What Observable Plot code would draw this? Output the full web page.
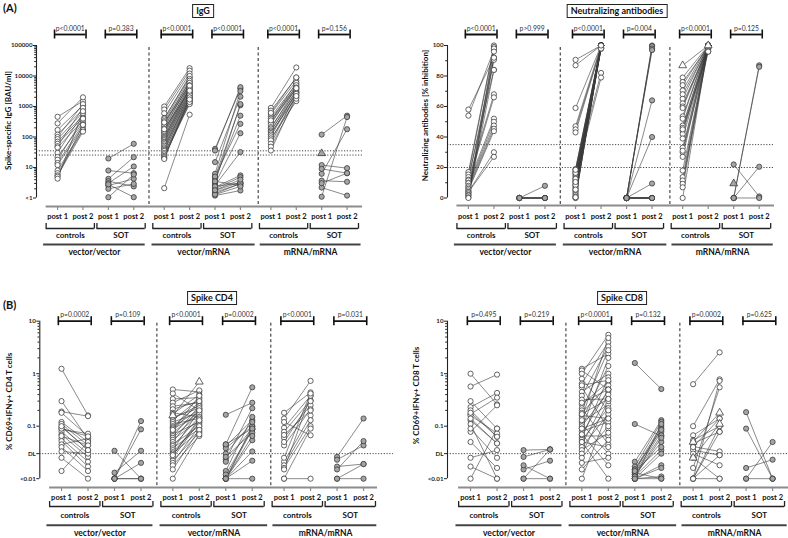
<!DOCTYPE html>
<html><head><meta charset="utf-8">
<script src="https://cdn.jsdelivr.net/npm/d3@7"></script>
<script src="https://cdn.jsdelivr.net/npm/@observablehq/plot@0.6"></script>
<style>
body{margin:0;background:#fff;}
#wrap{position:relative;width:788px;height:538px;overflow:hidden;font-family:Lato,"Open Sans",sans-serif;color:#111;}
.ttl{position:absolute;border:1px solid #222;font:bold 9px Lato,sans-serif;padding:0 3px;line-height:12px;transform:translateX(-50%);background:#fff;white-space:nowrap;}
.lbl{position:absolute;font:bold 11px Lato,sans-serif;}
</style></head><body><div id="wrap"></div>
<script>
// ---------- categories / labels ----------
const timepoints = ["post 1", "post 2"];
const cohorts = ["controls", "SOT"];
const regimens = ["vector/vector", "vector/mRNA", "mRNA/mRNA"];
const panelTitles = ["IgG", "Neutralizing antibodies", "Spike CD4", "Spike CD8"];
const yLabels = ["Spike-specific IgG [BAU/ml]", "Neutralizing antibodies [% inhibition]", "% CD69+IFN\u03b3+ CD4 T cells", "% CD69+IFN\u03b3+ CD8 T cells"];

// p-values (order: vv controls, vv SOT, vm controls, vm SOT, mm controls, mm SOT)
const igg_p = ["p<0.0001", "p=0.383", "p<0.0001", "p<0.0001", "p<0.0001", "p=0.156"];
const nab_p = ["p<0.0001", "p>0.999", "p<0.0001", "p=0.004", "p<0.0001", "p=0.125"];
const cd4_p = ["p=0.0002", "p=0.109", "p<0.0001", "p=0.0002", "p<0.0001", "p=0.031"];
const cd8_p = ["p=0.495", "p=0.219", "p<0.0001", "p=0.132", "p=0.0002", "p=0.625"];

// axis ticks
const igg_ticks = [1, 10, 100, 1000, 10000, 100000];
const igg_tickLabels = ["<1", "10", "100", "1000", "10000", "100000"];
const igg_cutoffs = [35.2, 25.6];
const nab_ticks = [0, 20, 40, 60, 80, 100];
const nab_tickLabels = ["0", "20", "40", "60", "80", "100"];
const nab_cutoffs = [35, 20];
const tcell_ticks = [0.01, 0.03, 0.1, 1, 10];
const tcell_tickLabels = ["<0.01", "DL", "0.1", "1", "10"];
const tcell_DL = [0.03];

// ---------- IgG [post 1, post 2] ----------
const igg_vv_ctrl = [[460,1500],[280,2000],[170,1100],[120,800],[100,1200],[85,650],[70,500],[60,420],[50,900],[45,350],[30,600],[22,300],[18,400],[14,260],[12,220],[8,180],[6.5,170],[5.5,150],[5,250],[4.3,700]];
const igg_vv_sot = [[19.7,59.8],[7.95,6.5],[4.25,21.8],[3.55,2.4],[3.06,10.8],[2.57,4.25],[2.0,2.9],[1.06,5.9],[2.8,1.06]];
const igg_vm_ctrl = [[1000,18000],[800,15000],[600,12000],[420,9000],[380,10000],[330,8000],[290,6500],[250,7000],[220,5500],[190,6000],[170,4500],[150,5000],[140,3800],[125,4200],[110,3500],[100,3000],[92,4000],[85,2800],[78,3200],[70,2500],[65,2600],[58,2200],[52,2000],[46,1800],[42,2400],[38,1500],[35,1900],[30,1300],[27,1600],[24,1200],[22,1400],[20,2000],[19,1700],[2.1,540],[300,4800],[180,3300]];
const igg_vm_sot = [[41,3800],[36,4300],[15,2100],[6.2,3200],[4.8,1100],[3.95,500],[3.3,1200],[2.9,133],[2.57,32],[2.26,5.5],[2.0,4.8],[1.76,3.3],[1.55,2.9],[1.37,3.0],[1.2,1.76],[5.0,270],[3.5,2.6],[2.4,3.1],[1.3,2.4],[1.8,4.0]];
const igg_mm_ctrl = [[900,19000],[730,8800],[570,7000],[460,5500],[400,4500],[330,6000],[300,3800],[260,5000],[210,3200],[190,4200],[165,2600],[150,3500],[135,2000],[120,3000],[105,2800],[90,1500],[78,2300],[60,2600],[48,1800],[36,2200],[620,9000],[350,4000]];
const igg_mm_sot = [[120,500],[1.1,450],[6.2,180],[12,9.5],[9,6.5],[3.7,3.4],[2.2,1.2],[3.05,6.5]];
const igg_mm_sot_tri = [[29,null]];

// ---------- Neutralizing antibodies ----------
const nab_vv_ctrl = [[58,92],[54,97],[17,100],[15.4,99],[13.7,84],[12,68],[11.5,92],[10,66],[9.7,52],[8,50],[7,47.5],[6,45.4],[5,43.8],[4,30],[3.8,27],[3,98],[2,90.6],[1.6,96],[0.5,84],[0,92]];
const nab_vv_sot = [[0,8],[0,0],[0,0],[0,0],[0,0],[0,0],[0,0]];
const nab_vm_ctrl = [[90.6,100],[87,100],[59,100],[47,100],[45,99],[43,98.5],[19,100],[18,99],[17,82],[16,100],[15,99],[14,79],[13,100],[12,98],[11,100],[10,99],[9,100],[8,98],[7,100],[6,99],[5,100],[4,98],[3,100],[2,99],[1,100],[0,100],[0,98.5],[16.5,100],[12.5,99],[8.5,100],[5.5,99],[18.5,100],[10.5,98],[0.5,100]];
const nab_vm_sot = [[0,100],[0,99.5],[0,98],[0,97],[0,64],[0,40],[0,9.5],[0,0],[0,0],[0,0],[0,0],[0,0],[0,0],[0,0]];
const nab_mm_ctrl = [[79,100],[76,99],[74,100],[70.5,100],[68,99],[65,100],[62,98],[60,100],[59,99],[53.5,100],[52,100],[47.5,99],[46,100],[44,98],[42,100],[39,99],[33,100],[30,96],[27,100],[18,99],[13.7,100],[11.5,97],[9.3,100],[7,99],[0,100],[45,96],[31,100]];
const nab_mm_ctrl_tri = [[86.9,100]];
const nab_mm_sot = [[0,87],[0,86],[0,20.5],[22,1],[0,0]];
const nab_mm_sot_tri = [[9.5,null]];

// ---------- Spike CD4 ----------
const cd4_vv_ctrl = [[1.24,0.16],[0.30,0.057],[0.19,0.155],[0.18,0.064],[0.12,0.05],[0.11,0.043],[0.097,0.035],[0.087,0.072],[0.078,0.03],[0.069,0.026],[0.058,0.021],[0.052,0.017],[0.045,0.058],[0.04,0.014],[0.033,0.03],[0.025,0.01],[0.014,0.05],[0.09,0.064],[0.065,0.043],[0.1,0.035]];
const cd4_vv_sot = [[0.034,0.01],[0.013,0.034],[0.01,0.125],[0.01,0.087],[0.01,0.02],[0.01,0.01],[0.01,0.01]];
const cd4_vm_ctrl = [[0.5,0.45],[0.42,0.20],[0.33,0.35],[0.28,0.48],[0.24,0.28],[0.21,0.30],[0.18,0.15],[0.17,0.40],[0.15,0.22],[0.14,0.25],[0.13,0.33],[0.12,0.18],[0.11,0.14],[0.10,0.26],[0.095,0.21],[0.09,0.16],[0.08,0.30],[0.075,0.19],[0.07,0.12],[0.065,0.24],[0.06,0.17],[0.055,0.13],[0.05,0.22],[0.045,0.10],[0.042,0.15],[0.038,0.09],[0.035,0.20],[0.032,0.11],[0.03,0.08],[0.028,0.14],[0.025,0.12],[0.022,0.075],[0.02,0.10],[0.018,0.065],[0.015,0.085],[0.01,0.07],[0.085,0.38],[0.028,0.13]];
const cd4_vm_ctrl_tri = [[0.16,0.70]];
const cd4_vm_sot = [[0.165,0.28],[0.045,0.55],[0.042,0.13],[0.038,0.10],[0.023,0.22],[0.021,0.092],[0.014,0.15],[0.012,0.087],[0.01,0.054],[0.01,0.033],[0.01,0.022],[0.01,0.01],[0.01,0.10],[0.01,0.087],[0.03,0.12],[0.026,0.075],[0.045,0.09],[0.01,0.065]];
const cd4_mm_ctrl = [[0.18,0.44],[0.14,0.73],[0.093,0.38],[0.078,0.31],[0.06,0.25],[0.043,0.21],[0.021,0.16],[0.018,0.13],[0.016,0.10],[0.015,0.38],[0.01,0.09],[0.01,0.01],[0.12,0.067],[0.05,0.3],[0.025,0.42],[0.068,0.2]];
const cd4_mm_sot = [[0.026,0.14],[0.023,0.043],[0.017,0.019],[0.015,0.052],[0.01,0.01],[0.01,0.019]];

// ---------- Spike CD8 ----------
const cd8_vv_ctrl = [[1.0,0.26],[0.57,0.96],[0.30,0.09],[0.23,0.43],[0.2,0.063],[0.17,0.35],[0.16,0.073],[0.13,0.047],[0.11,0.01],[0.078,0.25],[0.05,0.016],[0.025,0.035],[0.017,0.01],[0.01,0.09],[0.18,0.063],[0.14,0.047],[0.09,0.025]];
const cd8_vv_sot = [[0.035,0.036],[0.026,0.036],[0.015,0.022],[0.01,0.01],[0.018,0.01],[0.01,0.036]];
const cd8_vm_ctrl = [[1.24,2.4],[1.15,0.5],[1.0,5.5],[0.8,0.2],[0.65,4.0],[0.55,0.09],[0.45,1.0],[0.38,3.3],[0.32,0.33],[0.26,0.7],[0.22,0.045],[0.2,2.8],[0.18,0.6],[0.16,0.14],[0.14,4.8],[0.12,0.26],[0.11,0.03],[0.1,0.45],[0.09,2.0],[0.08,0.12],[0.07,0.5],[0.065,0.065],[0.06,0.85],[0.055,0.22],[0.05,0.01],[0.045,0.4],[0.04,0.17],[0.035,0.075],[0.03,0.3],[0.025,0.1],[0.02,0.025],[0.015,0.055],[0.01,0.2],[0.07,0.018],[0.13,1.4],[0.28,0.5],[0.05,0.04],[0.09,0.14],[0.17,0.33],[0.6,0.75]];
const cd8_vm_sot = [[1.6,0.51],[0.11,0.065],[0.021,0.13],[0.017,0.12],[0.015,0.10],[0.014,0.09],[0.013,0.078],[0.012,0.067],[0.012,0.05],[0.011,0.035],[0.01,0.03],[0.01,0.018],[0.01,0.016],[0.01,0.011],[0.01,0.01],[0.013,0.01],[0.015,0.085],[0.011,0.06],[0.014,0.04],[0.01,0.11]];
const cd8_mm_ctrl = [[0.63,2.55],[0.10,0.78],[0.067,0.14],[0.054,0.10],[0.047,0.078],[0.041,0.033],[0.035,0.028],[0.03,0.018],[0.025,0.01],[0.016,0.55],[0.01,0.73],[0.01,0.1],[0.01,0.01],[0.01,0.078],[0.01,0.028],[0.04,0.14]];
const cd8_mm_ctrl_tri = [[0.05,0.18],[0.025,0.11]];
const cd8_mm_sot = [[0.185,0.01],[0.09,0.01],[0.016,0.023],[0.01,0.05],[0.01,0.01]];

// ---------- drawing ----------
const wrap = document.getElementById("wrap");
const slotX = (r, c, t) => r * 4.2 + c * 2 + t;
const separators = [3.6, 7.9];
const barSpans = [[-0.55, 3.45], [3.72, 7.78], [7.98, 11.95]];

function logMinor(lo, hi) {
  const out = [];
  for (let e = lo; e < hi; e++) for (let k = 2; k <= 9; k++) out.push(k * Math.pow(10, e));
  return out;
}

function drawPanel(cfg) {
  const f = cfg.frame;
  const xs = Plot.scale({x: {domain: cfg.xDomain, range: [f.left, f.right]}});
  const ys = Plot.scale({y: {type: cfg.yType, domain: cfg.yDomain, range: [f.bottom, f.top]}});
  const X = px => xs.invert(px), Y = px => ys.invert(px);
  const links = [], circles = [], triangles = [];
  cfg.groups.forEach((g, gi) => {
    const r = Math.floor(gi / 2), c = gi % 2;
    const xa = slotX(r, c, 0), xb = slotX(r, c, 1);
    const fill = c ? "#a5a5a5" : "#ffffff";
    const add = (arr, target) => (arr || []).forEach(([a, b]) => {
      if (a != null && b != null) links.push({x1: xa, x2: xb, y1: a, y2: b});
      if (a != null) target.push({x: xa, y: a, fill});
      if (b != null) target.push({x: xb, y: b, fill});
    });
    add(g, circles);
    add(cfg.tri[gi], triangles);
  });
  const pairs = [];
  for (let r = 0; r < 3; r++) for (let c = 0; c < 2; c++) pairs.push({r, c, xa: slotX(r, c, 0), xb: slotX(r, c, 1)});
  const slots = pairs.flatMap(p => [{x: p.xa, t: 0}, {x: p.xb, t: 1}]);
  const tickMap = new Map(cfg.ticks.map((t, i) => [t, cfg.tickLabels[i]]));
  const a = cfg.ann;
  const yLow = cfg.ticks[0];
  const marks = [
    Plot.ruleY(cfg.hlines, {y: d => d, x1: cfg.xDomain[0], x2: X(cfg.hlineEnd), stroke: "#333", strokeWidth: 0.9, strokeDasharray: "1.2,1.6"}),
    Plot.ruleX(separators, {x: d => d, y1: Y(f.top + 2), y2: Y(f.bottom), stroke: "#222", strokeWidth: 1, strokeDasharray: "3,2.5"}),
    Plot.ruleY([cfg.yDomain[0]], {x1: -0.45, x2: X(cfg.xAxisEnd), stroke: "#8c8c8c", strokeWidth: 2}),
    Plot.ruleX(slots, {x: "x", y1: Y(f.bottom), y2: Y(f.bottom + 4), stroke: "#8c8c8c", strokeWidth: 1.2}),
    Plot.ruleX([cfg.xDomain[0]], {x: d => d, y1: cfg.yDomain[1], y2: yLow, stroke: "#222", strokeWidth: 1.1}),
    Plot.axisY({ticks: cfg.minor, tickSize: 1.8, tickFormat: () => "", label: null, stroke: "#222"}),
    Plot.axisY({ticks: cfg.ticks, tickSize: 3, tickPadding: 1, tickFormat: d => tickMap.get(d), label: null, fontSize: 6.2, fontWeight: "bold", stroke: "#222", fill: "#222"}),
    Plot.link(links, {x1: "x1", y1: "y1", x2: "x2", y2: "y2", stroke: "#3a3a3a", strokeWidth: 0.6}),
    Plot.dot(circles, {x: "x", y: "y", r: 2.6, fill: "fill", stroke: "#333", strokeWidth: 0.75}),
    Plot.dot(triangles, {x: "x", y: "y", r: 2.9, symbol: "triangle", fill: "fill", stroke: "#333", strokeWidth: 0.75}),
    // p-values and brackets
    Plot.text(pairs, {x: p => (p.xa + p.xb) / 2, y: Y(a.p), text: (p, i) => cfg.pvals[i], fontSize: 6.8, fill: "#333"}),
    Plot.ruleY(pairs, {x1: p => p.xa - 0.12, x2: p => p.xb + 0.12, y: Y(a.pb), stroke: "#111", strokeWidth: 1.8}),
    Plot.ruleX(pairs.flatMap(p => [p.xa - 0.12, p.xb + 0.12]), {x: d => d, y1: Y(a.pb - 4.5), y2: Y(a.pb + 4.5), stroke: "#111", strokeWidth: 1.6}),
    // bottom category labels
    Plot.text(slots, {x: "x", y: Y(a.post), text: d => timepoints[d.t], fontSize: 7.5, fontWeight: "bold"}),
    Plot.ruleY(pairs, {x1: p => p.xa - 0.45, x2: p => p.xb + 0.45, y: Y(a.br), stroke: "#222", strokeWidth: 1.3}),
    Plot.ruleX(pairs.flatMap(p => [p.xa - 0.45, p.xb + 0.45]), {x: d => d, y1: Y(a.br + 0.6), y2: Y(a.br - 5), stroke: "#222", strokeWidth: 1.3}),
    Plot.text(pairs, {x: p => (p.xa + p.xb) / 2, y: Y(a.cohort), text: p => cohorts[p.c], fontSize: 8, fontWeight: "bold"}),
    Plot.ruleY(barSpans, {x1: d => d[0], x2: d => Math.min(d[1], cfg.xDomain[1]), y: Y(a.bar), stroke: "#444", strokeWidth: 2}),
    Plot.text(regimens, {x: (d, i) => (barSpans[i][0] + barSpans[i][1]) / 2, y: Y(a.reg), text: d => d, fontSize: 8.5, fontWeight: "bold"}),
    Plot.text([cfg.ylabel], {x: X(cfg.ylab.x), y: Y(cfg.ylab.y), text: d => d, rotate: -90, fontSize: 8, fontWeight: "bold"})
  ];
  const svg = Plot.plot({
    width: cfg.W, height: cfg.H,
    marginLeft: f.left, marginRight: cfg.W - f.right, marginTop: f.top, marginBottom: cfg.H - f.bottom,
    x: {domain: cfg.xDomain, axis: null},
    y: {type: cfg.yType, domain: cfg.yDomain},
    color: {type: "identity"},
    style: {fontFamily: "Lato, 'Open Sans', sans-serif", background: "transparent", overflow: "visible"},
    marks
  });
  svg.style.position = "absolute";
  svg.style.left = cfg.left + "px";
  svg.style.top = cfg.top + "px";
  wrap.appendChild(svg);
}

const annTop = {p: 28, pb: 34, post: 216, br: 228, cohort: 235, bar: 244, reg: 251.5};
const annBot = {p: 46.7, pb: 52.7, post: 229.3, br: 238, cohort: 246.5, bar: 256.7, reg: 264.5};

drawPanel({
  left: 0, top: 0, W: 394, H: 268,
  frame: {left: 36, right: 361.8, top: 45, bottom: 206},
  xDomain: [-0.83, 12.0], yType: "log", yDomain: [0.526, 1e5],
  ticks: igg_ticks, tickLabels: igg_tickLabels, minor: logMinor(0, 5),
  hlines: igg_cutoffs, hlineEnd: 362, xAxisEnd: 362,
  groups: [igg_vv_ctrl, igg_vv_sot, igg_vm_ctrl, igg_vm_sot, igg_mm_ctrl, igg_mm_sot],
  tri: [null, null, null, null, null, igg_mm_sot_tri],
  pvals: igg_p, ylabel: yLabels[0], ylab: {x: 7.5, y: 120}, ann: annTop
});
drawPanel({
  left: 394, top: 0, W: 394, H: 268,
  frame: {left: 53, right: 380, top: 45, bottom: 205},
  xDomain: [-0.82, 12.0], yType: "linear", yDomain: [-4.92, 100],
  ticks: nab_ticks, tickLabels: nab_tickLabels, minor: [10, 30, 50, 70, 90],
  hlines: nab_cutoffs, hlineEnd: 380, xAxisEnd: 380,
  groups: [nab_vv_ctrl, nab_vv_sot, nab_vm_ctrl, nab_vm_sot, nab_mm_ctrl, nab_mm_sot],
  tri: [null, null, null, null, nab_mm_ctrl_tri, nab_mm_sot_tri],
  pvals: nab_p, ylabel: yLabels[1], ylab: {x: 31, y: 115}, ann: annTop
});
drawPanel({
  left: 0, top: 268, W: 394, H: 270,
  frame: {left: 39.3, right: 376.3, top: 52.7, bottom: 219},
  xDomain: [-0.82, 11.9], yType: "log", yDomain: [0.00679, 10],
  ticks: tcell_ticks, tickLabels: tcell_tickLabels, minor: logMinor(-1, 1),
  hlines: tcell_DL, hlineEnd: 393, xAxisEnd: 377,
  groups: [cd4_vv_ctrl, cd4_vv_sot, cd4_vm_ctrl, cd4_vm_sot, cd4_mm_ctrl, cd4_mm_sot],
  tri: [null, null, cd4_vm_ctrl_tri, null, null, null],
  pvals: cd4_p, ylabel: yLabels[2], ylab: {x: 9, y: 133}, ann: annBot
});
drawPanel({
  left: 394, top: 268, W: 394, H: 270,
  frame: {left: 53, right: 394, top: 52.7, bottom: 219},
  xDomain: [-0.87, 12.0], yType: "log", yDomain: [0.00679, 10],
  ticks: tcell_ticks, tickLabels: tcell_tickLabels, minor: logMinor(-1, 1),
  hlines: tcell_DL, hlineEnd: 394, xAxisEnd: 394,
  groups: [cd8_vv_ctrl, cd8_vv_sot, cd8_vm_ctrl, cd8_vm_sot, cd8_mm_ctrl, cd8_mm_sot],
  tri: [null, null, null, null, cd8_mm_ctrl_tri, null],
  pvals: cd8_p, ylabel: yLabels[3], ylab: {x: 22, y: 127}, ann: annBot
});

// titles and panel letters
const titlePos = [[203, 4], [617, 4], [212, 291], [622, 291]];
panelTitles.forEach((t, i) => {
  const d = document.createElement("div");
  d.className = "ttl"; d.textContent = t;
  d.style.left = titlePos[i][0] + "px"; d.style.top = titlePos[i][1] + "px";
  wrap.appendChild(d);
});
[["(A)", 3, 1], ["(B)", 3, 298]].forEach(([t, x, y]) => {
  const d = document.createElement("div");
  d.className = "lbl"; d.textContent = t;
  d.style.left = x + "px"; d.style.top = y + "px";
  wrap.appendChild(d);
});
</script></body></html>
